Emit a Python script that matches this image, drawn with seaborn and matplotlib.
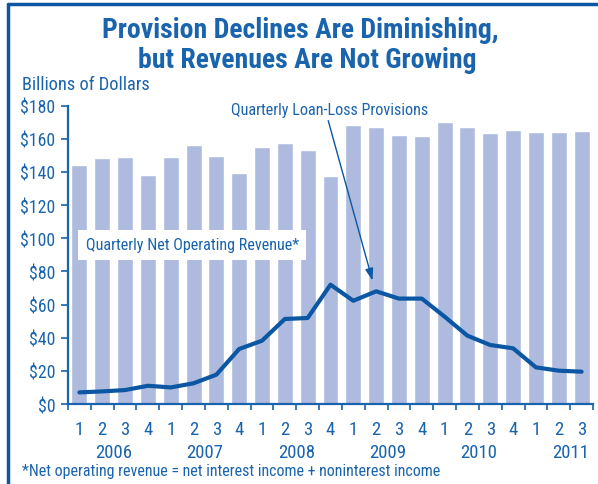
import numpy as np
import pandas as pd
import matplotlib
matplotlib.use("Agg")
import matplotlib.pyplot as plt
import seaborn as sns
from matplotlib.lines import Line2D
from matplotlib.font_manager import FontProperties, fontManager

years = ["2006", "2007", "2008", "2009", "2010", "2011"]
quarters = ["1", "2", "3", "4"] * 5 + ["1", "2", "3"]
revenue = [144.2, 148.5, 149.0, 138.2, 149.0, 156.3, 149.7, 139.4,
           155.1, 157.5, 153.3, 137.6, 168.4, 167.2, 162.3, 161.7,
           170.2, 167.2, 163.5, 165.4, 164.1, 164.1, 164.8]
provisions = [7.0, 7.6, 8.4, 11.0, 10.0, 12.5, 17.7, 33.2,
              38.2, 51.3, 51.9, 72.0, 62.3, 68.0, 63.6, 63.6,
              52.7, 41.2, 35.6, 33.6, 22.1, 20.1, 19.5]
yticks = list(range(0, 181, 20))

blue = "#1a64ae"
bar_color = "#aebbde"
line_color = "#0b57a4"

sns.set_theme(style="white")
plt.rcParams["font.family"] = ["Liberation Sans", "DejaVu Sans"]


def narrow(size, bold=False):
    # Liberation Sans Narrow is registered as a condensed Liberation Sans
    want = 700 if bold else 400
    for f in fontManager.ttflist:
        if (f.name == "Liberation Sans" and f.stretch == "condensed"
                and f.style == "normal" and int(f.weight) == want):
            return FontProperties(fname=f.fname, size=size)
    return FontProperties(family="Roboto Condensed",
                          weight="bold" if bold else "normal", size=size)


df = pd.DataFrame({
    "q": [f"{i}" for i in range(len(revenue))],
    "pos": np.arange(len(revenue)),
    "revenue": revenue,
    "provisions": provisions,
})

fig = plt.figure(figsize=(5.98, 4.85), dpi=100)
ax = fig.add_axes([68 / 598, 1 - 405 / 485, (593 - 68) / 598, (405 - 106.7) / 485])

sns.barplot(data=df, x="q", y="revenue", color=bar_color, saturation=1,
            width=0.7, ax=ax)
sns.lineplot(data=df, x="pos", y="provisions", color=line_color,
             linewidth=3, ax=ax)

ax.set_xlim(-0.5, len(revenue) - 0.5)
ax.set_ylim(0, 180)
ax.set_xlabel("")
ax.set_ylabel("")

# ticks at quarter boundaries, labels as text below
ax.set_xticks(np.arange(len(revenue) + 1) - 0.5)
ax.set_xticklabels([])
ax.tick_params(axis="x", direction="out", length=4, width=1.2, color=blue, bottom=True)
ax.set_yticks(yticks)
ax.set_yticklabels([f"${v}" for v in yticks], color=blue)
for lab in ax.get_yticklabels():
    lab.set_fontproperties(narrow(12.8))
ax.tick_params(axis="y", direction="out", length=5, width=1.2, color=blue, left=True, pad=4)

for s in ["top", "right"]:
    ax.spines[s].set_visible(False)
for s in ["left", "bottom"]:
    ax.spines[s].set_color(blue)
    ax.spines[s].set_linewidth(1.6)

trans = ax.get_xaxis_transform()
for i, q in enumerate(quarters):
    ax.text(i, -0.085, q, transform=trans, ha="center", va="center",
            fontproperties=narrow(13.5), color=blue)
for j, y in enumerate(years):
    ax.text(j * 4 + 1.5, -0.16, y, transform=trans, ha="center", va="center",
            fontproperties=narrow(13.5), color=blue)

ax.text(4.94, 96, "Quarterly Net Operating Revenue*", ha="center", va="center",
        fontproperties=narrow(11.6), color=blue,
        bbox=dict(boxstyle="square,pad=0.45", fc="white", ec="none"))

ax.text(10.98, 178, "Quarterly Loan-Loss Provisions", ha="center", va="center",
        fontproperties=narrow(11.6), color=blue)
ax.annotate("", xy=(12.84, 74.5), xytext=(10.9, 171),
            arrowprops=dict(arrowstyle="-|>,head_length=0.6,head_width=0.2",
                            color=line_color, lw=1, shrinkA=0, shrinkB=0))

fig.text(0.502, 1 - 38.5 / 485, "Provision Declines Are Diminishing,",
         ha="center", va="baseline", fontproperties=narrow(20, bold=True), color=blue)
fig.text(0.513, 1 - 68 / 485, "but Revenues Are Not Growing",
         ha="center", va="baseline", fontproperties=narrow(20, bold=True), color=blue)
fig.text(22 / 598, 1 - 90 / 485, "Billions of Dollars", ha="left", va="baseline",
         fontproperties=narrow(13.2), color=blue)
fig.text(22 / 598, 1 - 476 / 485,
         "*Net operating revenue = net interest income + noninterest income",
         ha="left", va="baseline", fontproperties=narrow(11.5), color=blue)

# frame: top and left edges
fig.add_artist(Line2D([7.5 / 598, 1], [1 - 4.5 / 485, 1 - 4.5 / 485],
                      transform=fig.transFigure, color="#0b57a4", lw=2.5))
fig.add_artist(Line2D([7.5 / 598, 7.5 / 598], [0, 1 - 4.5 / 485],
                      transform=fig.transFigure, color="#0b57a4", lw=2.5))

fig.savefig("out.png", dpi=100)
